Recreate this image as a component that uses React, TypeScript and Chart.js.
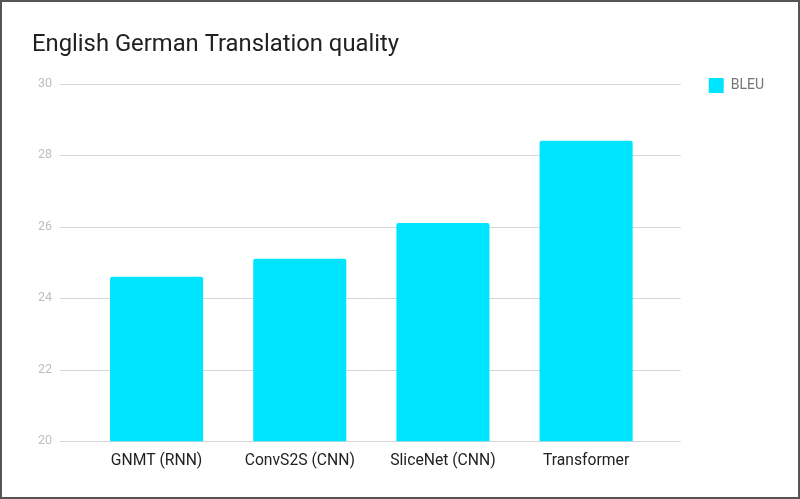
import React, { useEffect, useRef } from "react";
import { Chart, registerables } from "chart.js";

Chart.register(...registerables);

const categories = ["GNMT (RNN)", "ConvS2S (CNN)", "SliceNet (CNN)", "Transformer"];
const bleuValues = [24.6, 25.1, 26.1, 28.4];
const seriesLabel = "BLEU";
const chartTitle = "English German Translation quality";
const yMin = 20;
const yMax = 30;
const yStep = 2;

const extendedGrid = {
  id: "extendedGrid",
  beforeDatasetsDraw(chart: any) {
    const { ctx, chartArea } = chart;
    const y = chart.scales.y;
    ctx.save();
    ctx.strokeStyle = "#d6d6d6";
    ctx.lineWidth = 1;
    for (const t of y.ticks) {
      const py = Math.round(y.getPixelForValue(t.value)) + 0.5;
      ctx.beginPath();
      ctx.moveTo(chartArea.left - 25, py);
      ctx.lineTo(chartArea.right + 23, py);
      ctx.stroke();
    }
    ctx.restore();
  },
};

export default function App() {
  const ref = useRef<HTMLCanvasElement>(null);
  useEffect(() => {
    document.body.style.margin = "0";
    if (!ref.current) return;
    const chart = new Chart(ref.current, {
      type: "bar",
      data: {
        labels: categories,
        datasets: [
          {
            label: seriesLabel,
            data: bleuValues,
            backgroundColor: "#00E5FF",
            borderColor: "#00E5FF",
            borderWidth: 0,
            borderRadius: { topLeft: 2, topRight: 2, bottomLeft: 0, bottomRight: 0 },
            borderSkipped: "start",
            barPercentage: 0.65,
            categoryPercentage: 1,
          },
        ],
      },
      options: {
        responsive: false,
        animation: false,
        devicePixelRatio: 1,
        layout: { padding: { top: 25, left: 30, right: 24, bottom: 17 } },
        plugins: {
          title: {
            display: true,
            text: chartTitle,
            align: "start",
            color: "#212121",
            font: { family: "Roboto", size: 23.8, weight: "normal" },
            padding: { top: 4, bottom: 24 },
          },
          legend: {
            display: true,
            position: "right",
            align: "start",
            labels: {
              boxWidth: 15,
              boxHeight: 15,
              padding: 51,
              color: "#757575",
              font: { family: "Roboto", size: 14 },
            },
          },
          tooltip: { enabled: false },
        },
        scales: {
          x: {
            grid: { display: false, drawTicks: false },
            border: { display: false },
            ticks: {
              color: "#222222",
              font: { family: "Roboto", size: 15.7 },
              padding: 10,
              maxRotation: 0,
            },
          },
          y: {
            min: yMin,
            max: yMax,
            grid: { display: false, drawTicks: false },
            border: { display: false },
            ticks: {
              stepSize: yStep,
              color: "#bdbdbd",
              font: { family: "Roboto", size: 12.5 },
              padding: 33,
            },
            afterFit: (scale: any) => {
              scale.width = 53;
            },
          },
        },
      },
      plugins: [extendedGrid],
    });
    return () => chart.destroy();
  }, []);

  return (
    <div
      style={{
        width: 800,
        height: 499,
        boxSizing: "border-box",
        border: "2px solid #555555",
        background: "#ffffff",
        overflow: "hidden",
      }}
    >
      <canvas ref={ref} width={796} height={495} style={{ display: "block" }} />
    </div>
  );
}
